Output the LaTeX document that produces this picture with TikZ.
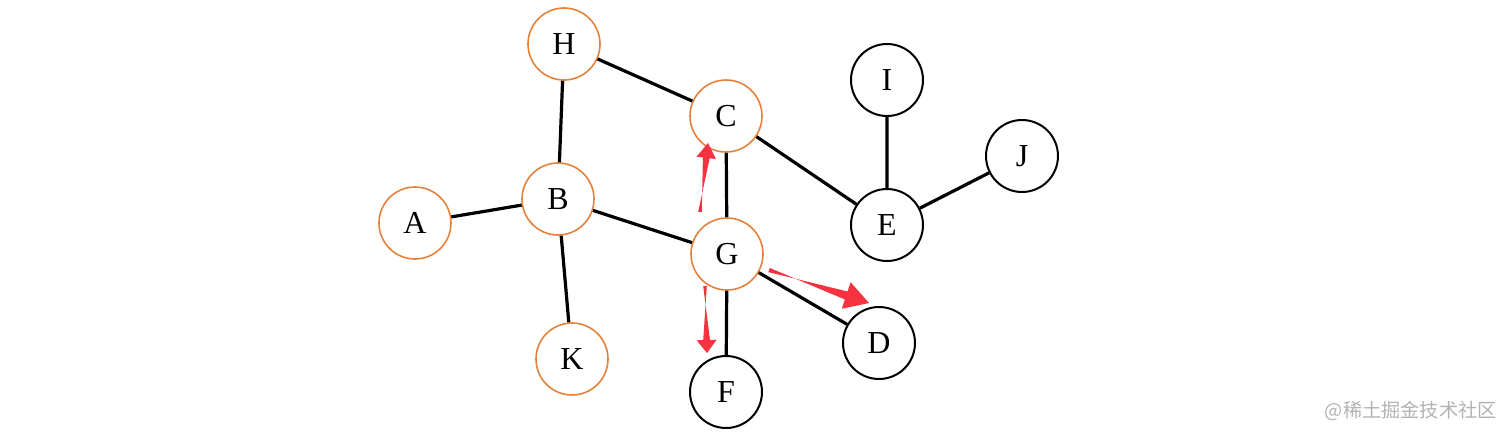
\documentclass[tikz,border=0pt]{standalone}
\usepackage{fontspec}
\setmainfont{Liberation Serif}
\newfontfamily\cjk{Noto Sans CJK SC}
\usetikzlibrary{calc}
\definecolor{orng}{HTML}{E5813A}
\definecolor{redarr}{HTML}{F53240}
\newcommand\fatarrow[6]{%
  \coordinate (hb) at ($(#2)!#3!(#1)$);
  \fill[redarr] ($(#1)!#6!90:(#2)$) -- ($(hb)!#5!-90:(#2)$) -- ($(hb)!#4!-90:(#2)$) -- (#2)
    -- ($(hb)!#4!90:(#2)$) -- ($(hb)!#5!90:(#2)$) -- ($(#1)!#6!-90:(#2)$) -- cycle;}
\begin{document}
\begin{tikzpicture}[x=0.5pt,y=-0.5pt,
  vtx/.style={circle, minimum size=36pt, inner sep=0pt, fill=white, font=\fontsize{16}{19}\selectfont},
  ov/.style={vtx, draw=orng, line width=0.8pt},
  bv/.style={vtx, draw=black, line width=1pt},
  edge/.style={line width=1.6pt}]
\useasboundingbox (0,0) rectangle (1512,436);
\node[ov] (H) at (564,44) {H};
\node[ov] (C) at (726,116) {C};
\node[ov] (B) at (558,199) {B};
\node[ov] (A) at (415,223) {A};
\node[ov] (G) at (727,254) {G};
\node[ov] (K) at (572,359) {K};
\node[bv] (I) at (887,80) {I};
\node[bv] (J) at (1022,156) {J};
\node[bv] (E) at (887,225) {E};
\node[bv] (D) at (879,343) {D};
\node[bv] (F) at (726,392) {F};
\draw[edge] (H) -- (B) (H) -- (C) (A) -- (B) (B) -- (K) (B) -- (G)
  (C) -- (G) (C) -- (E) (I) -- (E) (E) -- (J) (G) -- (F) (G) -- (D);
\coordinate (a1t) at (700,212); \coordinate (a1h) at (708,143);
\coordinate (a2t) at (769,270); \coordinate (a2h) at (869,303);
\coordinate (a3t) at (705,286); \coordinate (a3h) at (707,353);
\fatarrow{a1t}{a1h}{7.5pt}{4.9pt}{1.7pt}{0.9pt}
\fatarrow{a2t}{a2h}{12pt}{7pt}{2.1pt}{1.1pt}
\fatarrow{a3t}{a3h}{6.5pt}{5pt}{1.7pt}{0.9pt}
\node[anchor=east, text=black!30, inner sep=0pt] (wm) at (1497,411) {\cjk\fontsize{9.6}{12}\selectfont @稀土掘金技术社区};
\end{tikzpicture}
\end{document}
